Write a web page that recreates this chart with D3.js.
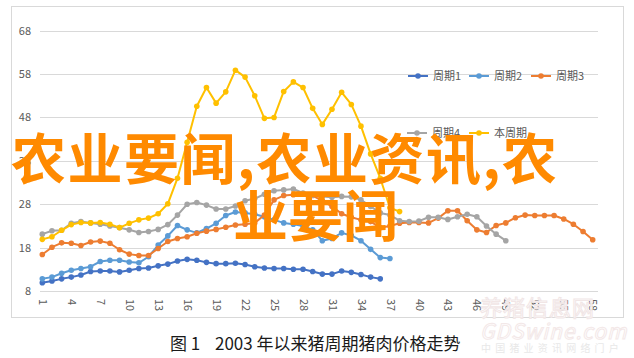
<!DOCTYPE html>
<html><head><meta charset="utf-8">
<script src="https://cdn.jsdelivr.net/npm/d3@7"></script>
<style>
html,body{margin:0;padding:0;background:#fff;}
svg{display:block;}
text{font-family:"Noto Sans CJK SC","Noto Sans",sans-serif;}
</style></head>
<body>
<svg id="chart" width="634" height="358"></svg>
<script>
// ---- data ----
const categories = [1,2,3,4,5,6,7,8,9,10,11,12,13,14,15,16,17,18,19,20,21,22,23,24,25,26,27,28,29,30,31,32,33,34,35,36,37,38,39,40,41,42,43,44,45,46,47,48,49,50,51,52,53,54,55,56,57,58];
const xTickLabels = [1,4,7,10,13,16,19,22,25,28,31,34,37,40,43,46,49,52,55,58];
const yTickLabels = [8,18,28,38,48,58,68];
const seriesNames = ["周期1","周期2","周期3","周期4","本周期"];
const cycle1 = [9.9,10.3,10.8,11.2,11.7,12.5,12.6,12.6,12.4,12.8,13.2,13.3,13.8,14.2,14.9,15.3,15.1,14.6,14.3,14.3,14.4,14.1,13.6,13.3,13.2,13.2,13.0,13.0,12.5,11.9,11.9,12.6,12.3,11.8,11.2,10.8];
const cycle2 = [10.8,11.2,12.1,12.8,13.2,13.6,14.8,15.1,15.1,14.7,14.5,15.9,18.6,20.7,23.1,22.1,21.4,22.4,23.6,25.4,26.2,26.0,25.7,25.1,24.4,23.7,23.4,23.0,22.1,19.6,20.1,21.4,20.8,19.6,17.6,15.7,15.5];
const cycle3 = [16.4,18.1,19.1,19.0,18.5,19.3,19.5,19.0,17.5,16.5,16.2,16.2,17.8,19.4,20.1,20.5,21.3,21.8,22.2,22.7,23.2,23.4,23.7,25.5,29.0,30.0,30.2,30.4,30.0,28.8,27.5,25.8,25.0,24.4,24.0,22.6,23.0,23.6,23.8,23.8,23.7,24.8,26.5,26.5,24.2,22.1,21.5,23.1,23.7,24.9,25.5,25.4,25.4,25.4,24.6,23.4,21.7,19.8];
const cycle4 = [21.1,21.9,22.0,23.6,24.0,23.7,23.4,23.0,22.6,22.1,21.5,21.7,22.2,23.3,25.5,28.0,28.4,27.8,26.9,26.9,27.6,28.8,29.3,30.3,31.1,31.3,31.5,30.6,30.1,29.8,29.6,29.8,29.7,29.0,27.5,26.0,25.5,24.2,24.0,24.1,25.0,25.0,24.5,25.1,25.7,25.1,23.0,21.1,19.6];
const current = [19.9,20.5,22.0,23.3,23.8,23.7,23.8,23.4,22.6,23.6,24.4,24.8,25.8,28.1,34.0,42.3,50.6,54.9,51.3,53.9,58.9,57.3,53.0,47.8,48.0,54.0,56.2,54.9,50.1,46.4,49.9,53.8,51.0,46.0,39.6,34.0,27.2,26.3];
const colors = ["#4472C4","#5B9BD5","#ED7D31","#A5A5A5","#FFC000"];
const captionLabel = "图 1";
const captionTitle = "2003 年以来猪周期猪肉价格走势";
const overlayLine1 = "农业要闻,农业资讯,农";
const overlayLine2 = "业要闻";

const seriesList = [cycle1, cycle2, cycle3, cycle4, current];

// ---- drawing ----
const svg = d3.select("#chart");
svg.append("rect").attr("width",634).attr("height",358).attr("fill","#fff");
svg.append("rect").attr("x",11.5).attr("y",6.5).attr("width",612).attr("height",311)
  .attr("fill","none").attr("stroke","#D9D9D9").attr("stroke-width",1);

const x = d3.scalePoint().domain(categories).range([42.3, 592.7]);
const y = d3.scaleLinear().domain([8,68]).range([291, 30.7]);
const gridLeft = 40, gridRight = 598;

// gridlines
svg.append("g").selectAll("line").data(yTickLabels).join("line")
  .attr("x1",gridLeft).attr("x2",gridRight)
  .attr("y1",d=>Math.round(y(d))+0.5).attr("y2",d=>Math.round(y(d))+0.5)
  .attr("stroke","#D9D9D9").attr("stroke-width",1);

// y axis labels
const yAxis = d3.axisLeft(y).tickValues(yTickLabels).tickSize(0).tickPadding(0);
const gy = svg.append("g").attr("transform","translate(31,0)").call(yAxis);
gy.select(".domain").remove();
gy.selectAll("text").attr("font-size",11).attr("fill","#595959")
  .attr("font-family","'Noto Sans','DejaVu Sans',sans-serif");

// x axis labels (rotated)
const xAxis = d3.axisBottom(x).tickValues(xTickLabels).tickSize(0).tickPadding(0);
const gx = svg.append("g").attr("transform","translate(0,299)").call(xAxis);
gx.select(".domain").remove();
gx.selectAll("text")
  .attr("font-size",11).attr("fill","#595959")
  .attr("font-family","'Noto Sans','DejaVu Sans',sans-serif")
  .attr("transform","rotate(90)").attr("text-anchor","start")
  .attr("x",0).attr("y",0).attr("dy","0.35em");

// lines
const line = d3.line().x((d,i)=>x(categories[i])).y(d=>y(d));
seriesList.forEach((s,k)=>{
  const g = svg.append("g");
  g.append("path").datum(s).attr("d",line).attr("fill","none")
    .attr("stroke",colors[k]).attr("stroke-width",2).attr("stroke-linejoin","round");
  g.selectAll("circle").data(s).join("circle")
    .attr("cx",(d,i)=>x(categories[i])).attr("cy",d=>y(d)).attr("r",2.8)
    .attr("fill",colors[k]);
});

// legend
const legendPos = [[408,76],[469,76],[531,76],[407,133],[469,133]];
seriesNames.forEach((n,k)=>{
  const [lx,ly] = legendPos[k];
  const g = svg.append("g").attr("transform",`translate(${lx},${ly})`);
  g.append("line").attr("x1",0).attr("x2",20).attr("y1",0).attr("y2",0)
    .attr("stroke",colors[k]).attr("stroke-width",2);
  g.append("circle").attr("cx",10).attr("cy",0).attr("r",2.8).attr("fill",colors[k]);
  g.append("text").attr("x",25).attr("y",0).attr("dy","0.35em")
    .attr("font-size",11).attr("fill","#595959").text(n);
});

// bottom-right watermark (faint)
svg.append("text").attr("x",480).attr("y",316).attr("font-size",22)
  .attr("fill","#fff").attr("fill-opacity",0.85).attr("stroke","#F1E6E6").attr("stroke-width",1)
  .attr("letter-spacing",1).text("养猪信息网");
svg.append("text").attr("x",480).attr("y",339).attr("font-size",21)
  .attr("font-family","'Liberation Serif',serif").attr("font-style","italic")
  .attr("fill","#fff").attr("stroke","#F3E8E8").attr("stroke-width",1)
  .attr("letter-spacing",1).text("GDSwine.com");
svg.append("text").attr("x",481).attr("y",352).attr("font-size",10)
  .attr("fill","#E8E8E8").attr("letter-spacing",4.2).text("中国猪业资讯网络门户");

// caption
svg.append("text").attr("x",170).attr("y",350).attr("font-size",17).attr("fill","#1a1a1a").text(captionLabel);
svg.append("text").attr("x",215).attr("y",350).attr("font-size",17).attr("fill","#1a1a1a").text(captionTitle);

// overlay text
svg.append("text").attr("x",11).attr("y",179).attr("font-size",55).attr("font-weight",700)
  .attr("fill","#FF8A00").attr("textLength",546).attr("lengthAdjust","spacing").text(overlayLine1);
svg.append("text").attr("x",233).attr("y",236).attr("font-size",55).attr("font-weight",700)
  .attr("fill","#FF8A00").text(overlayLine2);
</script>
</body></html>
